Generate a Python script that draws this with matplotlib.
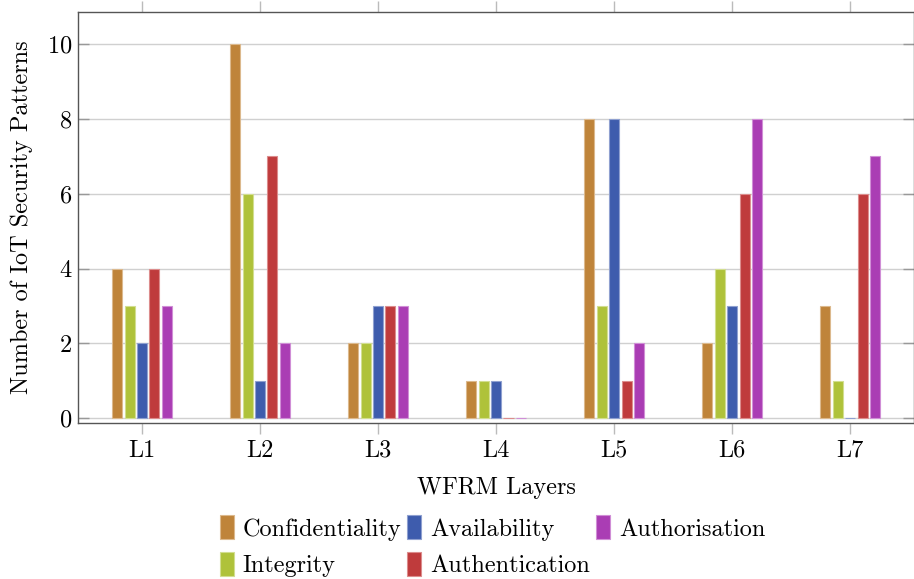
import matplotlib.pyplot as plt
import numpy as np

plt.rcParams['font.family'] = ['cmr10', 'DejaVu Serif']
plt.rcParams['axes.formatter.use_mathtext'] = True
plt.rcParams['mathtext.fontset'] = 'cm'

layers = ['L1', 'L2', 'L3', 'L4', 'L5', 'L6', 'L7']
confidentiality = [4, 10, 2, 1, 8, 2, 3]
integrity = [3, 6, 2, 1, 3, 4, 1]
availability = [2, 1, 3, 1, 8, 3, 0]
authentication = [4, 7, 3, 0, 1, 6, 6]
authorisation = [3, 2, 3, 0, 2, 8, 7]

series = [
    ('Confidentiality', confidentiality, '#bf843a', '#dcb98d'),
    ('Integrity', integrity, '#afc23a', '#d2de90'),
    ('Availability', availability, '#3e5cad', '#8fa0d0'),
    ('Authentication', authentication, '#bf3b3c', '#dc8c8c'),
    ('Authorisation', authorisation, '#aa3db4', '#d08ed6'),
]

FS = 17.5

fig = plt.figure(figsize=(9.14, 5.79), dpi=100)
ax = fig.add_axes([0.0853, 0.2694, 0.9147, 0.7098])

x = np.arange(1, len(layers) + 1)
step = 0.105
width = 0.085
for i, (name, vals, fc, ec) in enumerate(series):
    ax.bar(x + (i - 2) * step, vals, width, color=fc, edgecolor=ec,
           linewidth=0.8, label=name, zorder=3)

ax.set_xlim(0.458, 7.54)
ax.set_ylim(-0.13, 10.86)
ax.set_xticks(x)
ax.set_xticklabels(layers)
ax.set_yticks([0, 2, 4, 6, 8, 10])
ax.yaxis.grid(True, color='#d0d0d0', linewidth=1.0, zorder=0)

ax.tick_params(axis='x', direction='out', length=8, width=1.0,
               color='#bbbbbb', top=True, labelsize=FS, pad=4)
ax.tick_params(axis='y', direction='in', length=8, width=1.0,
               color='#999999', right=True, labelsize=FS, pad=4)
for s in ax.spines.values():
    s.set_color('#555555')
    s.set_linewidth(1.0)

ax.set_xlabel('WFRM Layers', fontsize=FS, labelpad=11)
ax.set_ylabel('Number of IoT Security Patterns', fontsize=FS, labelpad=10)

fig.legend(loc='upper center', bbox_to_anchor=(0.539, 0.11), ncol=3,
           frameon=False, fontsize=FS, handlelength=0.57, handleheight=1.15,
           handletextpad=0.37, columnspacing=0.25, labelspacing=0.45,
           borderaxespad=0, borderpad=0)

plt.savefig('out.png', dpi=100)
